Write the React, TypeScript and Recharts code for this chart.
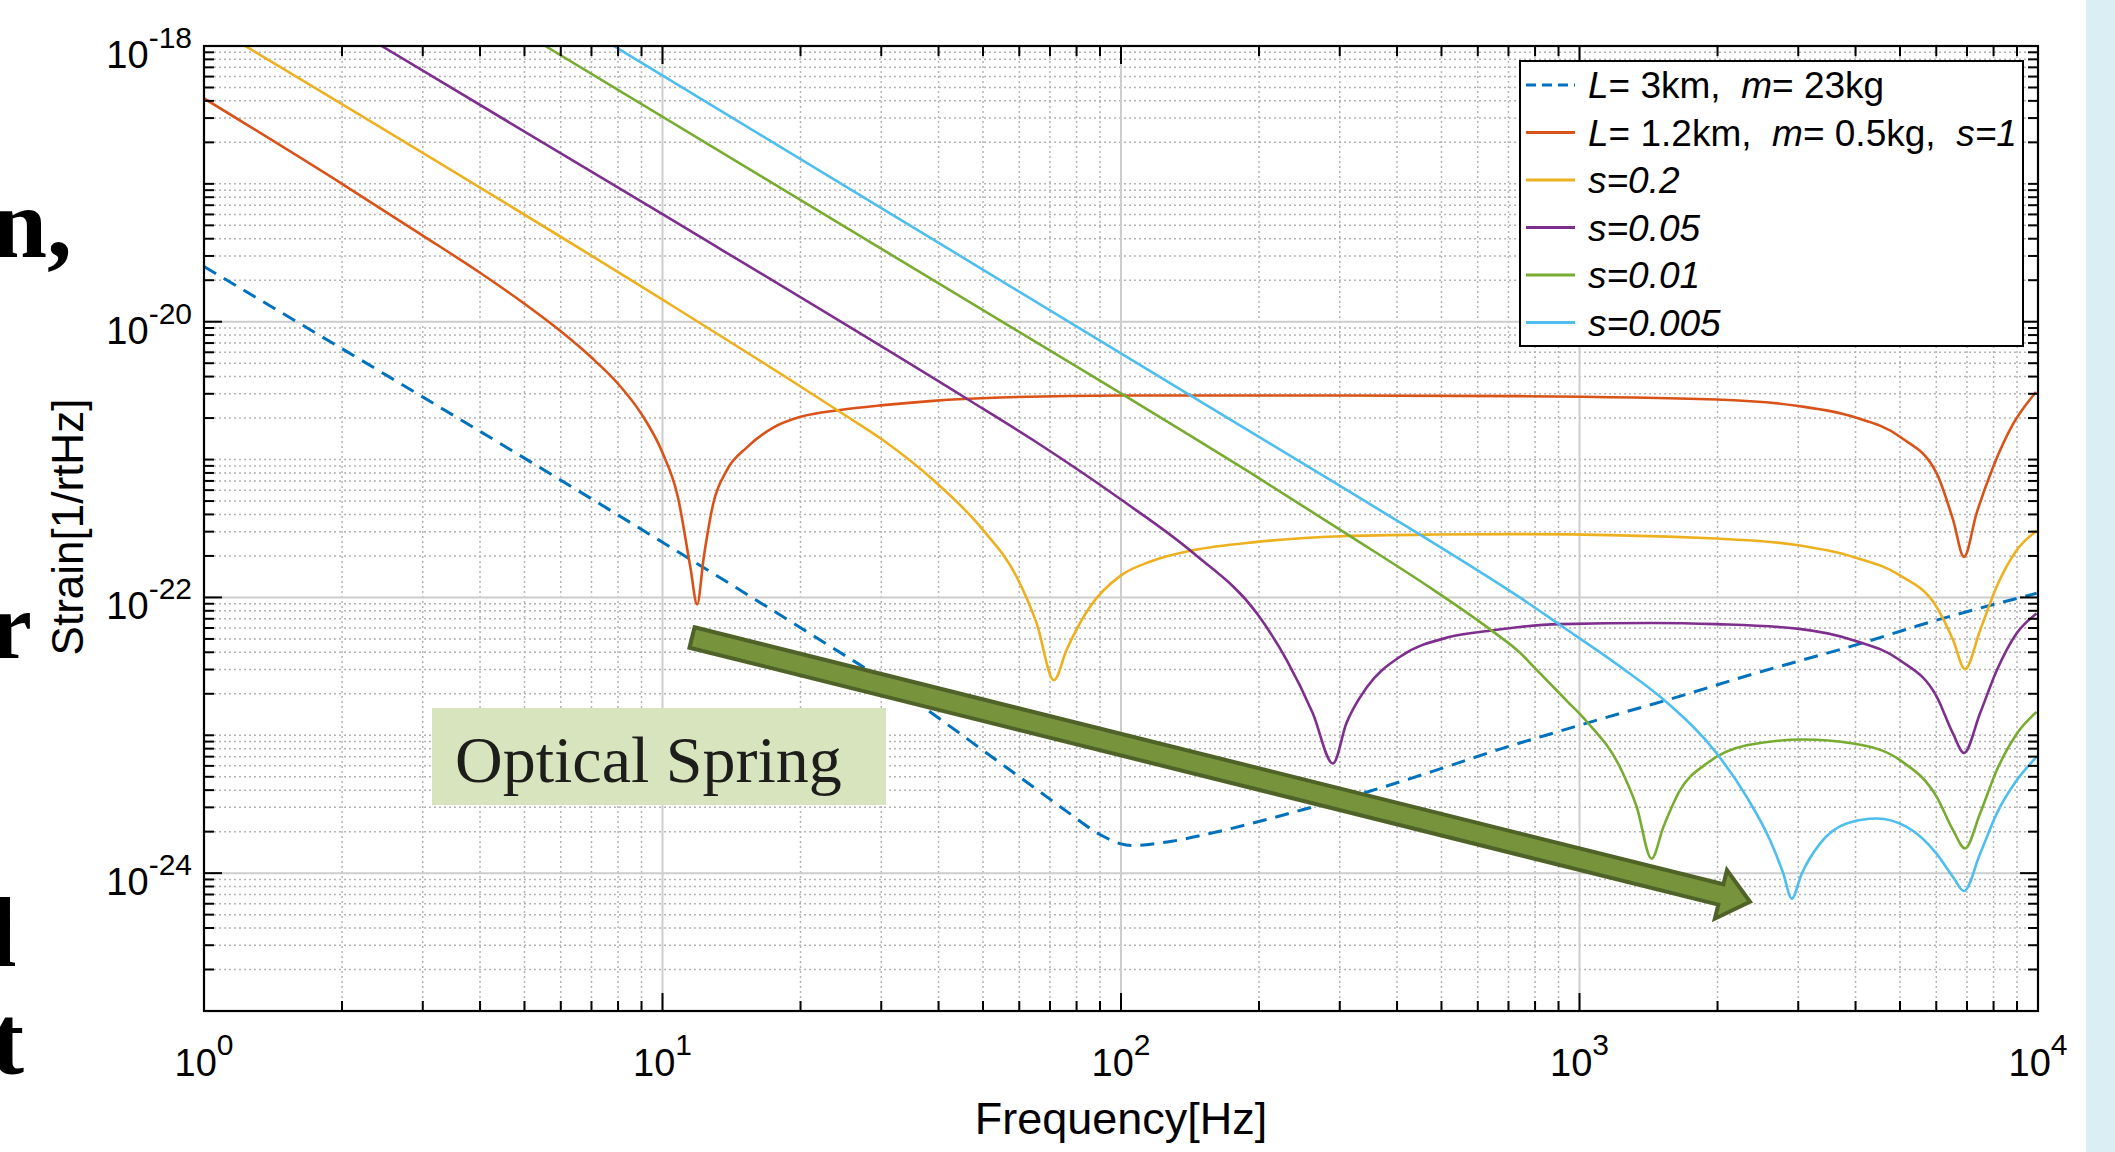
import React from "react";
import { LineChart, Line, XAxis, YAxis, CartesianGrid } from "recharts";

// frequency in Hz, strain as log10(value)
const freqRef = [1, 10, 20, 33, 54.5, 64.4, 76, 90, 99.5, 106, 126, 156, 198, 262, 344, 480, 671, 906, 1145, 1549, 2393, 3954, 6012, 9931];
const logRef = [-19.6, -21.6, -22.22, -22.68, -23.2, -23.375, -23.55, -23.72, -23.786, -23.8, -23.774, -23.713, -23.629, -23.52, -23.411, -23.26, -23.1, -22.97, -22.87, -22.745, -22.555, -22.35, -22.165, -21.97];

const freqS1 = [1, 2, 3, 4, 5, 6, 7, 8, 9, 10, 10.8, 11.5, 11.9, 12.3, 12.9, 13.8, 15.3, 17.4, 20, 24.4, 30.3, 38.9, 54.5, 100, 300, 741, 1991, 2979, 3954, 5000, 6012, 6531, 6896, 7345, 7990, 8831, 9900];
const logS1 = [-18.38, -19.0, -19.375, -19.645, -19.87, -20.07, -20.26, -20.45, -20.67, -20.95, -21.27, -21.78, -22.05, -21.71, -21.32, -21.08, -20.91, -20.77, -20.69, -20.64, -20.605, -20.574, -20.55, -20.535, -20.535, -20.54, -20.564, -20.61, -20.69, -20.835, -21.1, -21.44, -21.706, -21.39, -21.05, -20.74, -20.51];

const freqS02 = [1.23, 10, 20, 24.4, 30.3, 39, 50, 59.2, 65.5, 71.4, 76.1, 85.5, 100, 116, 144, 198, 301, 480, 741, 1991, 2979, 3954, 5000, 6012, 6531, 6931, 7475, 8128, 8985, 9931];
const logS02 = [-18.0, -19.84, -20.47, -20.655, -20.86, -21.15, -21.51, -21.85, -22.19, -22.6, -22.38, -22.07, -21.84, -21.74, -21.657, -21.597, -21.556, -21.544, -21.541, -21.573, -21.62, -21.706, -21.84, -22.07, -22.31, -22.52, -22.24, -21.92, -21.657, -21.517];

const freqS005 = [2.44, 10, 46, 64.4, 100, 144, 198, 230, 262, 290, 310, 344, 406, 522, 649, 741, 906, 1449, 1991, 2979, 3954, 5000, 6012, 6531, 6896, 7475, 8128, 8985, 9931];
const logS005 = [-18.0, -19.22, -20.557, -20.86, -21.29, -21.68, -22.117, -22.456, -22.84, -23.205, -22.915, -22.65, -22.43, -22.286, -22.238, -22.214, -22.194, -22.185, -22.194, -22.226, -22.31, -22.456, -22.72, -22.99, -23.128, -22.84, -22.53, -22.26, -22.117];

const freqS001 = [5.55, 100, 201, 316, 480, 649, 741, 793, 938, 1037, 1225, 1333, 1436, 1524, 1656, 1894, 2315, 3076, 3954, 5000, 6012, 6531, 6931, 7475, 8128, 8985, 9931];
const logS001 = [-18.0, -20.52, -21.14, -21.555, -21.945, -22.25, -22.4, -22.5, -22.75, -22.9, -23.23, -23.52, -23.895, -23.665, -23.4, -23.205, -23.073, -23.031, -23.06, -23.18, -23.447, -23.69, -23.82, -23.568, -23.254, -22.99, -22.83];

const freqS0005 = [7.83, 141, 290, 449, 597, 741, 907, 1225, 1549, 1991, 2315, 2604, 2784, 2903, 3052, 3346, 3825, 4446, 5172, 6012, 6531, 6896, 7475, 8128, 8985, 9931];
const logS0005 = [-18.0, -20.53, -21.16, -21.545, -21.8, -22.0, -22.2, -22.5, -22.76, -23.13, -23.447, -23.762, -24.004, -24.185, -24.004, -23.786, -23.64, -23.604, -23.665, -23.86, -24.03, -24.13, -23.86, -23.568, -23.327, -23.157];

const xMajor = [1, 10, 100, 1000, 10000];
const xMinor = [0, 1, 2, 3].flatMap((d) => [2, 3, 4, 5, 6, 7, 8, 9].map((m) => m * 10 ** d));
const yLabelExp = [-24, -22, -20, -18];
const yMajor = yLabelExp.map((e) => 10 ** e);
const yMinor: number[] = [];
for (let e = -25; e < -18; e++) {
  for (let m = 1; m <= 9; m++) {
    if (m === 1 && e % 2 === 0) continue;
    yMinor.push(m * 10 ** e);
  }
}
const xTicks = [...xMajor, ...xMinor].sort((a, b) => a - b);
const yTicks = [...yMajor, ...yMinor].sort((a, b) => a - b);

const W = 2115;
const H = 1152;
const PLOT = { left: 204, right: 2038, top: 46, bottom: 1011 };
const SANS = "'Liberation Sans', Arial, Helvetica, sans-serif";
const SERIF = "'Liberation Serif', 'Times New Roman', serif";

const toPoints = (f: number[], lg: number[]) => f.map((x, i) => ({ f: x, h: 10 ** lg[i] }));

const near = (a: number, b: number) => Math.abs(a / b - 1) < 1e-6;

const XTick = (props: any) => {
  const { x, payload } = props;
  const v = payload.value as number;
  const major = xMajor.some((m) => near(v, m));
  const len = major ? 18 : 10;
  return (
    <g>
      <line x1={x} x2={x} y1={PLOT.bottom} y2={PLOT.bottom - len} stroke="#000" strokeWidth={2} />
      <line x1={x} x2={x} y1={PLOT.top} y2={PLOT.top + len} stroke="#000" strokeWidth={2} />
      {major && (
        <text x={x} y={PLOT.bottom + 65} textAnchor="middle" fontFamily={SANS} fontSize={38} fill="#000">
          10<tspan dy={-21} fontSize={30}>{Math.round(Math.log10(v))}</tspan>
        </text>
      )}
    </g>
  );
};

const YTick = (props: any) => {
  const { y, payload } = props;
  const v = payload.value as number;
  const major = yMajor.some((m) => near(v, m));
  const len = major ? 18 : 10;
  return (
    <g>
      <line x1={PLOT.left} x2={PLOT.left + len} y1={y} y2={y} stroke="#000" strokeWidth={2} />
      <line x1={PLOT.right} x2={PLOT.right - len} y1={y} y2={y} stroke="#000" strokeWidth={2} />
      {major && (
        <text x={PLOT.left - 12} y={y + 22} textAnchor="end" fontFamily={SANS} fontSize={38} fill="#000">
          10<tspan dy={-20} fontSize={30}>{Math.round(Math.log10(v))}</tspan>
        </text>
      )}
    </g>
  );
};

const series = [
  { f: freqRef, lg: logRef, color: "#0072BD", dash: "14 9", width: 3 },
  { f: freqS1, lg: logS1, color: "#D95319" },
  { f: freqS02, lg: logS02, color: "#EDB120" },
  { f: freqS005, lg: logS005, color: "#7E2F8E" },
  { f: freqS001, lg: logS001, color: "#77AC30" },
  { f: freqS0005, lg: logS0005, color: "#4DBEEE" },
];

const legendRows: { color: string; dash?: string; parts: [string, boolean][] }[] = [
  { color: "#0072BD", dash: "10 6", parts: [["L", true], ["= 3km,  ", false], ["m", true], ["= 23kg", false]] },
  { color: "#D95319", parts: [["L", true], ["= 1.2km,  ", false], ["m", true], ["= 0.5kg,  ", false], ["s=1", true]] },
  { color: "#EDB120", parts: [["s=0.2", true]] },
  { color: "#7E2F8E", parts: [["s=0.05", true]] },
  { color: "#77AC30", parts: [["s=0.01", true]] },
  { color: "#4DBEEE", parts: [["s=0.005", true]] },
];

// block arrow annotation (pixel space)
const arrowTail = [692, 637.5];
const arrowTip = [1750, 901.7];
function arrowPoints() {
  const dx = arrowTip[0] - arrowTail[0];
  const dy = arrowTip[1] - arrowTail[1];
  const len = Math.hypot(dx, dy);
  const ux = dx / len, uy = dy / len;
  const nx = -uy, ny = ux;
  const hw = 10.5, hl = 30, bw = 25;
  const bx = arrowTip[0] - ux * hl, by = arrowTip[1] - uy * hl;
  const pts = [
    [arrowTail[0] - nx * hw, arrowTail[1] - ny * hw],
    [bx - nx * hw, by - ny * hw],
    [bx - nx * bw, by - ny * bw],
    [arrowTip[0], arrowTip[1]],
    [bx + nx * bw, by + ny * bw],
    [bx + nx * hw, by + ny * hw],
    [arrowTail[0] + nx * hw, arrowTail[1] + ny * hw],
  ];
  return pts.map((p) => p.join(",")).join(" ");
}

export default function App() {
  return (
    <div style={{ position: "absolute", left: 0, top: 0, width: W, height: H, background: "#fff", overflow: "hidden" }}>
      <LineChart width={W} height={H} margin={{ top: 46, right: 77, bottom: 41, left: 54 }}>
        <CartesianGrid horizontalValues={yMinor} verticalValues={xMinor} stroke="#b4b4b4" strokeWidth={1.5} strokeDasharray="2 3" />
        <CartesianGrid horizontalValues={yMajor} verticalValues={xMajor} stroke="#cdcdcd" strokeWidth={2} />
        <XAxis
          dataKey="f"
          type="number"
          scale="log"
          domain={[1, 10000]}
          allowDataOverflow
          ticks={xTicks}
          interval={0}
          tick={(p: any) => <XTick {...p} />}
          tickLine={false}
          axisLine={false}
          height={100}
        />
        <YAxis
          type="number"
          scale="log"
          domain={[1e-25, 1e-18]}
          allowDataOverflow
          ticks={yTicks}
          interval={0}
          tick={(p: any) => <YTick {...p} />}
          tickLine={false}
          axisLine={false}
          width={150}
        />
        {series.map((s, i) => (
          <Line
            key={i}
            data={toPoints(s.f, s.lg)}
            dataKey="h"
            type="monotone"
            stroke={s.color}
            strokeWidth={s.width ?? 2.6}
            strokeDasharray={s.dash}
            dot={false}
            activeDot={false}
            isAnimationActive={false}
          />
        ))}
      </LineChart>

      <svg width={W} height={H} style={{ position: "absolute", left: 0, top: 0, pointerEvents: "none", zIndex: 2 }}>
        <rect x={PLOT.left} y={PLOT.top} width={PLOT.right - PLOT.left} height={PLOT.bottom - PLOT.top} fill="none" stroke="#000" strokeWidth={2.2} />

        <polygon points={arrowPoints()} fill="#77933C" stroke="#4F6228" strokeWidth={4} strokeLinejoin="miter" />

        <rect x={432} y={708} width={454} height={97} fill="#D7E4BD" />
        <text x={455} y={782} fontFamily={SERIF} fontSize={66} fill="#1d1d1b">Optical Spring</text>

        <rect x={1520} y={61} width={503} height={285} fill="#fff" stroke="#000" strokeWidth={2} />
        {legendRows.map((r, i) => {
          const cy = 85 + i * 47.5;
          return (
            <g key={i}>
              <line x1={1526} x2={1575} y1={cy} y2={cy} stroke={r.color} strokeWidth={3} strokeDasharray={r.dash} />
              <text x={1588} y={cy + 13} fontFamily={SANS} fontSize={37} fill="#000" style={{ whiteSpace: "pre" }}>
                {r.parts.map(([t, it], j) => (
                  <tspan key={j} fontStyle={it ? "italic" : "normal"}>{t}</tspan>
                ))}
              </text>
            </g>
          );
        })}

        <text x={1121} y={1134} textAnchor="middle" fontFamily={SANS} fontSize={45} fill="#000">Frequency[Hz]</text>
        <text transform="translate(83,527) rotate(-90)" textAnchor="middle" fontFamily={SANS} fontSize={44} fill="#000">Strain[1/rtHz]</text>

        <text x={72} y={257} textAnchor="end" fontFamily={SERIF} fontWeight="bold" fontSize={100} fill="#000">n,</text>
        <text x={32} y={658} textAnchor="end" fontFamily={SERIF} fontWeight="bold" fontSize={95} fill="#000">r</text>
        <text x={16} y={966} textAnchor="end" fontFamily={SERIF} fontWeight="bold" fontSize={100} fill="#000">d</text>
        <text x={24} y={1074} textAnchor="end" fontFamily={SERIF} fontWeight="bold" fontSize={100} fill="#000">t</text>

        <rect x={2086} y={0} width={29} height={H} fill="#DAEEF3" />
      </svg>
    </div>
  );
}
